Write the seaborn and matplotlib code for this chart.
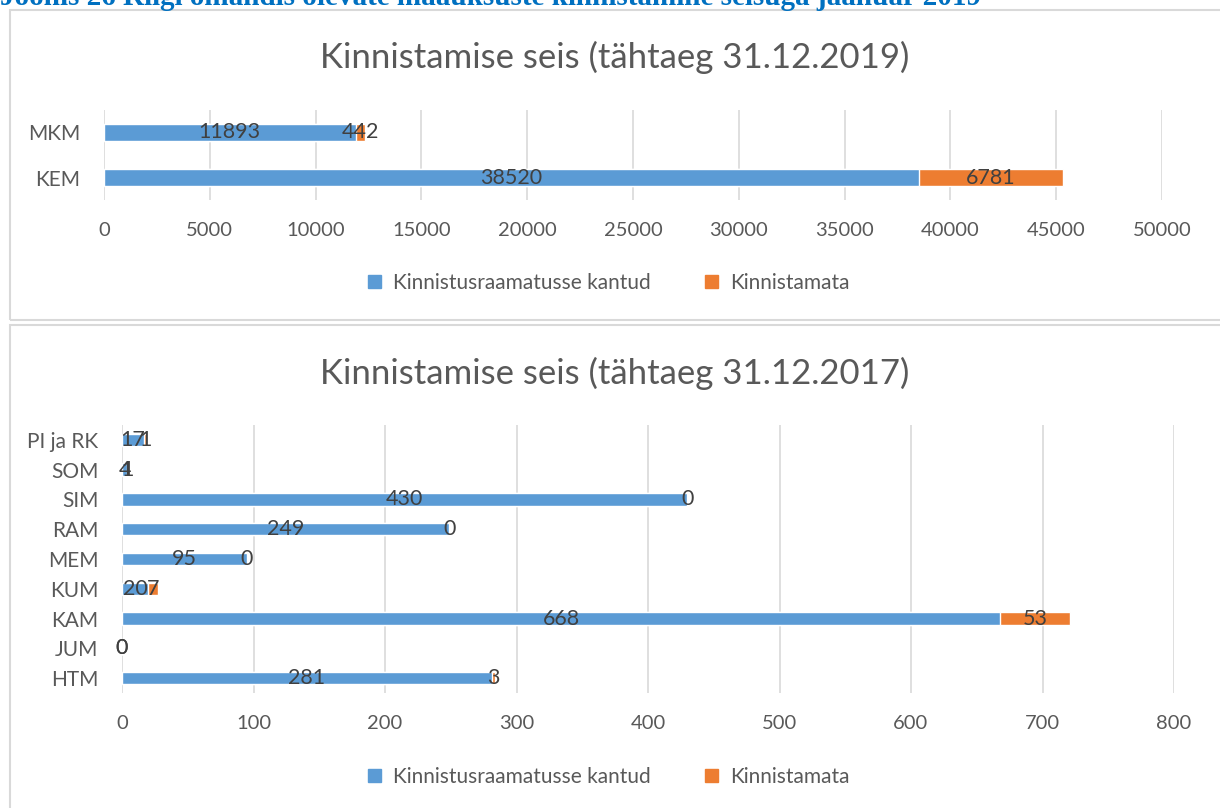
import matplotlib
matplotlib.use('Agg')
import matplotlib.pyplot as plt
from matplotlib.patches import Rectangle, Patch
import seaborn as sns
import pandas as pd

# data
top_cats = ['MKM', 'KEM']
top_done = [11893, 38520]
top_todo = [442, 6781]

bot_cats = ['PI ja RK', 'SOM', 'SIM', 'RAM', 'MEM', 'KUM', 'KAM', 'JUM', 'HTM']
bot_done = [17, 4, 430, 249, 95, 20, 668, 0, 281]
bot_todo = [1, 1, 0, 0, 0, 7, 53, 0, 3]

header = 'Joonis 26 Riigi omandis olevate maaüksuste kinnistamine seisuga jaanuar 2019'
title_top = 'Kinnistamise seis (tähtaeg 31.12.2019)'
title_bot = 'Kinnistamise seis (tähtaeg 31.12.2017)'
series_names = ['Kinnistusraamatusse kantud', 'Kinnistamata']

BLUE = '#5B9BD5'
ORANGE = '#ED7D31'
GRID = '#D9D9D9'
TXT = '#404040'
TICK = '#595959'

sns.set_theme(style='white')
plt.rcParams['font.family'] = ['Lato', 'DejaVu Sans']

W, H = 1220, 808
fig = plt.figure(figsize=(W / 100, H / 100), dpi=100)


def px_box(x0, y0, x1, y1):
    return [x0 / W, 1 - y1 / H, (x1 - x0) / W, (y1 - y0) / H]


def stacked(ax, cats, done, todo, xmax, step, bar_w):
    df = pd.DataFrame({'cat': cats, 'done': done,
                       'total': [a + b for a, b in zip(done, todo)]})
    # orange = total behind, blue = registered part on top
    sns.barplot(data=df, x='total', y='cat', orient='h', color=ORANGE,
                width=bar_w, saturation=1, ax=ax)
    sns.barplot(data=df, x='done', y='cat', orient='h', color=BLUE,
                width=bar_w, saturation=1, ax=ax)
    for i, (a, b) in enumerate(zip(done, todo)):
        ax.text(a / 2, i, f'{a}', ha='center', va='center', fontsize=15.5, color=TXT)
        ax.text(a + b / 2, i, f'{b}', ha='center', va='center', fontsize=15.5, color=TXT)
    ax.set_xlim(0, xmax)
    ax.set_ylim(len(cats) - 0.5, -0.5)
    ax.set_xticks(range(0, xmax + 1, step))
    ax.xaxis.grid(True, color=GRID, lw=1.2)
    ax.set_axisbelow(True)
    for s in ax.spines.values():
        s.set_visible(False)
    ax.set_xlabel('')
    ax.set_ylabel('')
    ax.tick_params(axis='x', length=0, pad=16, labelsize=14.5, labelcolor=TICK)
    ax.tick_params(axis='y', length=0, pad=17, labelsize=15, labelcolor=TICK)


ax1 = fig.add_axes(px_box(104, 110, 1162, 200))
stacked(ax1, top_cats, top_done, top_todo, 50000, 5000, 0.38)

ax2 = fig.add_axes(px_box(122, 425, 1174, 693))
stacked(ax2, bot_cats, bot_done, bot_todo, 800, 100, 0.42)

# panel frames
for y0, y1 in [(10, 320), (325, 815)]:
    fig.patches.append(Rectangle((10 / W, 1 - y1 / H), 1.2, (y1 - y0) / H,
                                 transform=fig.transFigure, fill=False,
                                 edgecolor=GRID, lw=1.5))

# titles
fig.text(615 / W, 1 - 57 / H, title_top, ha='center', va='center', fontsize=25, color=TICK)
fig.text(615 / W, 1 - 373 / H, title_bot, ha='center', va='center', fontsize=25, color=TICK)
fig.text(0, 1 - 5 / H, header, ha='left', va='baseline', fontsize=21,
         fontweight='bold', color='#0070C0', family=['Liberation Serif', 'DejaVu Serif'])

handles = [Patch(color=BLUE, label=series_names[0]), Patch(color=ORANGE, label=series_names[1])]
for yc in (283, 777):
    fig.legend(handles=handles, loc='center', bbox_to_anchor=(609 / W, 1 - yc / H),
               ncol=2, frameon=False, fontsize=15, labelcolor=TICK,
               handlelength=0.6, handleheight=0.6, handletextpad=0.6, columnspacing=2.6)

fig.savefig('out.png', dpi=100)
